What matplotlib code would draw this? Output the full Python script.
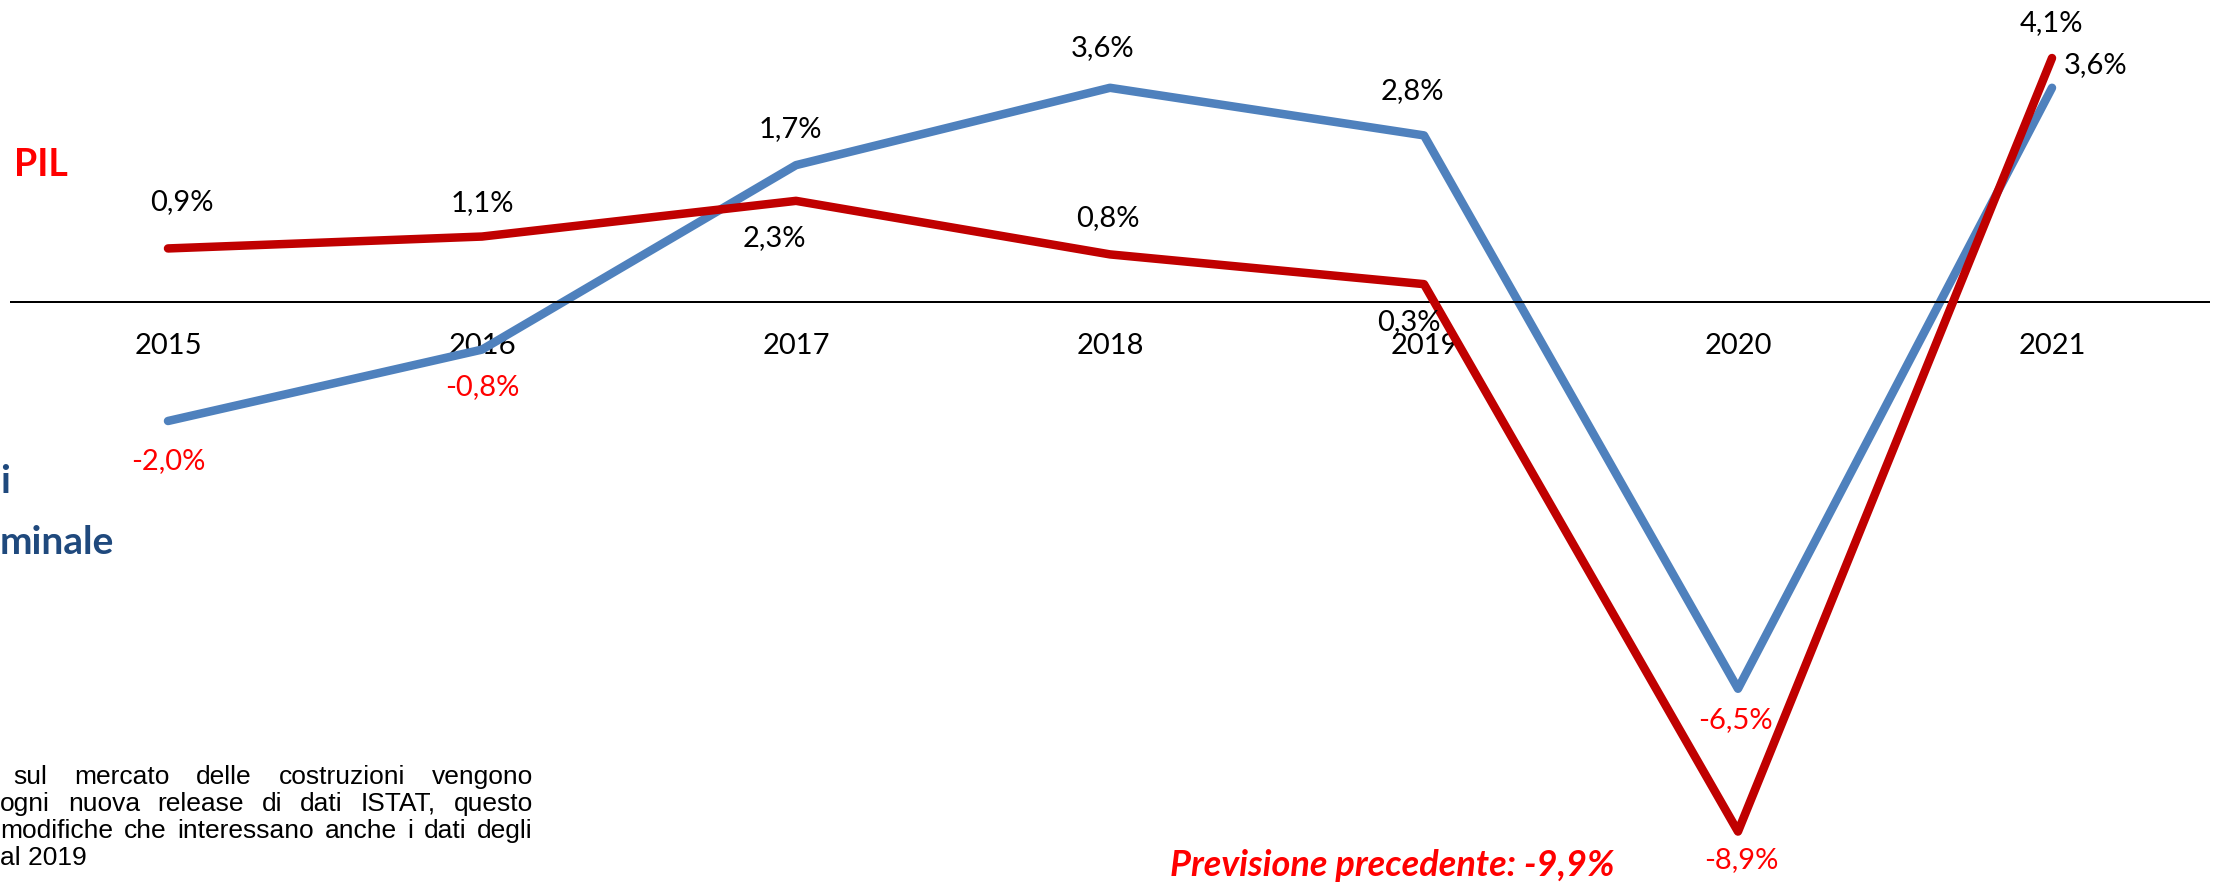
import matplotlib
matplotlib.use("Agg")
import matplotlib.pyplot as plt
from matplotlib.transforms import IdentityTransform

# data (variazioni % annue)
years = ["2015", "2016", "2017", "2018", "2019", "2020", "2021"]
pil = [0.9, 1.1, 1.7, 0.8, 0.3, -8.9, 4.1]
investimenti = [-2.0, -0.8, 2.3, 3.6, 2.8, -6.5, 3.6]

# offsets of the data labels from their point, in pixels (dx, dy with y down)
pil_label_off = [(14, -46), (0, -34), (-6, -72), (-2, -36), (-15, 38), (3, 28), (-1, -35)]
inv_label_off = [(0, 40), (0, 37), (-22, 73), (-7, -40), (-12, -44), (-3, 31), (44, -23)]

footnote = [
    "sul mercato delle costruzioni vengono",
    "ogni nuova release di dati ISTAT, questo",
    "modifiche che interessano anche i dati degli",
    "al 2019",
]

W, H, DPI = 2223, 884, 100
RED = "#C00000"
BLUE = "#4F81BD"
FONT = "Lato"


def px2pt(v):
    return v * 72 / DPI


def fmt(v):
    return f"{v:.1f}%".replace(".", ",")


def fig_text(fig, x, y, s, **kw):
    # x, y in pixels from the top-left corner
    return fig.text(x / W, 1 - y / H, s, **kw)


def justified_line(fig, words, x0, x1, y, **kw):
    r = fig.canvas.get_renderer()
    texts = [fig.text(0, 0, w, transform=IdentityTransform(), va="center", **kw) for w in words]
    widths = [t.get_window_extent(r).width for t in texts]
    gap = (x1 - x0 - sum(widths)) / max(len(words) - 1, 1)
    x = x0
    for t, w in zip(texts, widths):
        t.set_position((x, H - y))
        x += w + gap


def main():
    fig = plt.figure(figsize=(W / DPI, H / DPI), dpi=DPI)
    ax = fig.add_axes([11 / W, 1 - 867.25 / H, 2198 / W, 862.75 / H])
    ax.set_xlim(-0.5, 6.5)
    ax.set_ylim(-9.5, 5)
    ax.patch.set_visible(False)

    x = list(range(len(years)))
    ax.plot(x, investimenti, color=BLUE, lw=px2pt(8.5), solid_capstyle="round",
            solid_joinstyle="round", clip_on=False, zorder=2)
    ax.plot(x, pil, color=RED, lw=px2pt(8.5), solid_capstyle="round",
            solid_joinstyle="round", clip_on=False, zorder=3)

    for series, offs in ((pil, pil_label_off), (investimenti, inv_label_off)):
        for i, (v, (dx, dy)) in enumerate(zip(series, offs)):
            ax.annotate(fmt(v), (i, v), xytext=(px2pt(dx), -px2pt(dy)),
                        textcoords="offset points", ha="center", va="center",
                        fontsize=21, family=FONT,
                        color="#FF0000" if v < 0 else "black", zorder=5)

    # category axis through zero
    for side in ("left", "right", "top"):
        ax.spines[side].set_visible(False)
    ax.spines["bottom"].set_position(("data", 0))
    ax.spines["bottom"].set_linewidth(px2pt(2))
    ax.set_yticks([])
    ax.set_xticks(x, years)
    ax.tick_params(axis="x", length=0, pad=22, labelsize=21)
    for lab in ax.get_xticklabels():
        lab.set_family(FONT)

    # series names (only the visible part of the cropped original)
    fig_text(fig, 14, 165, "PIL", color="#FF0000", fontsize=27, fontweight="bold",
             family=FONT, ha="left", va="center")
    fig_text(fig, 0, 482, "i", color="#1F497D", fontsize=28,
             fontweight="bold", family=FONT, ha="left", va="center")
    fig_text(fig, 0, 542, "minale", color="#1F497D", fontsize=28,
             fontweight="bold", family=FONT, ha="left", va="center")

    fig_text(fig, 1392, 866, "Previsione precedente: -9,9%", color="#FF0000",
             fontsize=26, fontweight="bold", style="italic", family=FONT,
             ha="center", va="center")

    # justified footnote
    fkw = dict(fontsize=19, family="Liberation Sans", color="black")
    justified_line(fig, footnote[0].split(), 13, 533, 777, **fkw)
    justified_line(fig, footnote[1].split(), 0, 533, 804, **fkw)
    justified_line(fig, footnote[2].split(), 0, 533, 831, **fkw)
    fig.text(0, H - 858, footnote[3], transform=IdentityTransform(), va="center", **fkw)

    fig.savefig("out.png", dpi=DPI)


if __name__ == "__main__":
    main()
